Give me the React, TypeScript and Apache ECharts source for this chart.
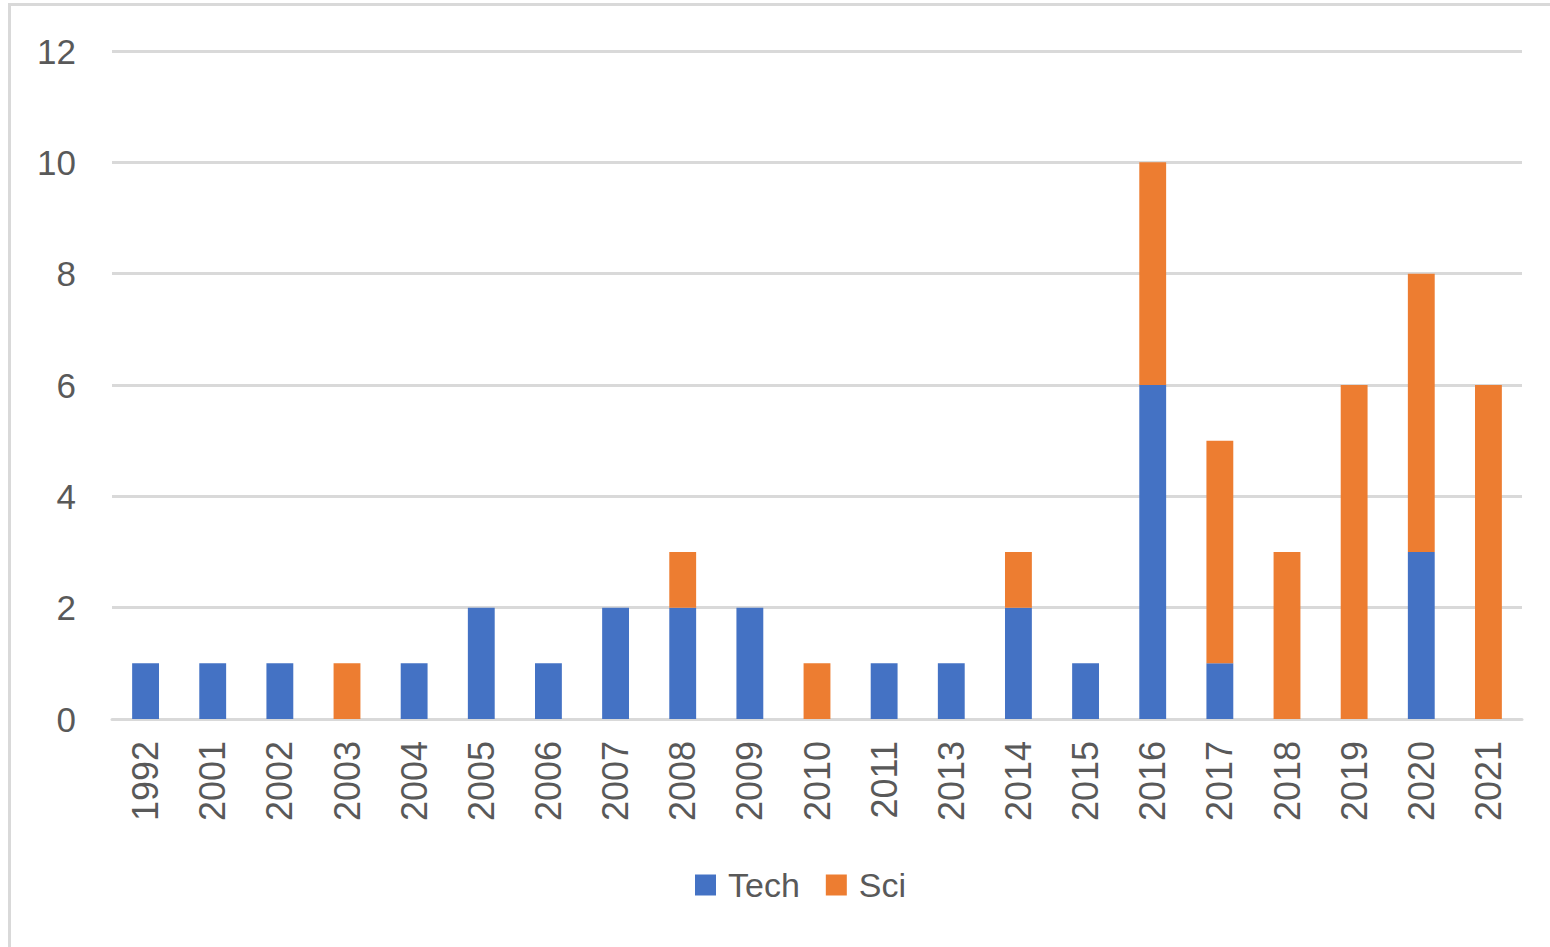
import React, { useEffect, useRef } from "react";
import * as echarts from "echarts";

const years = ["1992", "2001", "2002", "2003", "2004", "2005", "2006", "2007", "2008", "2009", "2010", "2011", "2013", "2014", "2015", "2016", "2017", "2018", "2019", "2020", "2021"];
const tech = [1, 1, 1, 0, 1, 2, 1, 2, 2, 2, 0, 1, 1, 2, 1, 6, 1, 0, 0, 3, 0];
const sci = [0, 0, 0, 1, 0, 0, 0, 0, 1, 0, 1, 0, 0, 1, 0, 4, 4, 3, 6, 5, 6];

const FONT = "Liberation Sans";
const TXT = "#595959";
const GRID = "#d9d9d9";

export default function App() {
  const ref = useRef<HTMLDivElement>(null);
  useEffect(() => {
    if (!ref.current) return;
    const chart = echarts.init(ref.current, undefined, { renderer: "svg" });
    chart.setOption({
      animation: false,
      backgroundColor: "#ffffff",
      textStyle: { fontFamily: FONT },
      grid: { left: 112, right: 28, top: 51, bottom: 228, containLabel: false },
      xAxis: {
        type: "category",
        data: years,
        axisLine: { show: true, lineStyle: { color: GRID, width: 3 } },
        axisTick: { show: false },
        axisLabel: { rotate: 90, color: TXT, fontSize: 36, fontFamily: FONT, margin: 22, interval: 0 },
      },
      yAxis: {
        type: "value",
        min: 0,
        max: 12,
        interval: 2,
        axisLine: { show: false },
        axisTick: { show: false },
        splitLine: { lineStyle: { color: GRID, width: 3 } },
        axisLabel: { color: TXT, fontSize: 35, fontFamily: FONT, margin: 36 },
      },
      legend: {
        bottom: 40,
        left: 690,
        itemWidth: 21,
        itemHeight: 21,
        itemGap: 26,
        icon: "rect",
        textStyle: { color: TXT, fontSize: 34, fontFamily: FONT, padding: [0, 0, 0, 7] },
        data: ["Tech", "Sci"],
      },
      series: [
        { name: "Tech", type: "bar", stack: "a", data: tech, barWidth: "40%", itemStyle: { color: "#4472c4" } },
        { name: "Sci", type: "bar", stack: "a", data: sci, barWidth: "40%", itemStyle: { color: "#ed7d31" } },
      ],
      graphic: [
        { type: "line", shape: { x1: 8, y1: 4.5, x2: 1550, y2: 4.5 }, style: { stroke: GRID, lineWidth: 3 } },
        { type: "line", shape: { x1: 9.5, y1: 3, x2: 9.5, y2: 947 }, style: { stroke: GRID, lineWidth: 3 } },
      ],
    });
    return () => chart.dispose();
  }, []);
  return <div ref={ref} style={{ position: "fixed", left: 0, top: 0, width: 1550, height: 947 }} />;
}
